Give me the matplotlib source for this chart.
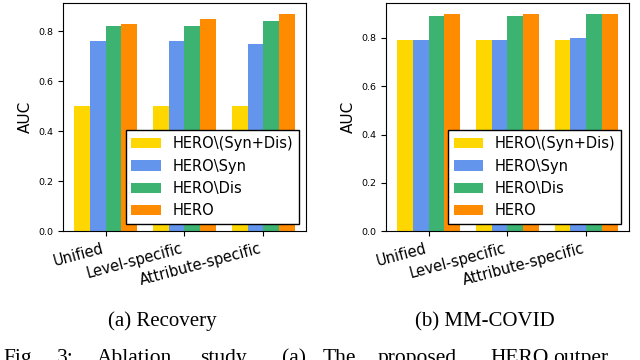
import numpy as np
import matplotlib
matplotlib.use('Agg')
import matplotlib.pyplot as plt

# ablation results
categories = ['Unified', 'Level-specific', 'Attribute-specific']
variants = ['HERO\\(Syn+Dis)', 'HERO\\Syn', 'HERO\\Dis', 'HERO']
colors = ['gold', 'cornflowerblue', 'mediumseagreen', 'darkorange']

recovery_no_syn_dis = [0.50, 0.50, 0.50]
recovery_no_syn = [0.76, 0.76, 0.75]
recovery_no_dis = [0.82, 0.82, 0.84]
recovery_hero = [0.83, 0.85, 0.87]

covid_no_syn_dis = [0.79, 0.79, 0.79]
covid_no_syn = [0.79, 0.79, 0.80]
covid_no_dis = [0.89, 0.89, 0.90]
covid_hero = [0.90, 0.90, 0.90]

subcaptions = ['(a) Recovery', '(b) MM-COVID']
caption_words = ['Fig.', '3:', 'Ablation', 'study.', '(a)', 'The', 'proposed', 'HERO', 'outper']
caption_x = [3, 57, 97, 200, 282, 323, 378, 490, 553]  # pixel positions of justified words


def draw_panel(ax, series):
    x = np.arange(len(categories))
    width = 0.2
    for i, (vals, name, c) in enumerate(zip(series, variants, colors)):
        ax.bar(x + (i - 1.5) * width, vals, width, color=c, label=name)
    ax.set_xticks(x)
    ax.set_xticklabels(categories, rotation=15, ha='right', fontsize=10.5)
    ax.tick_params(axis='y', labelsize=6.8)
    ax.set_yticks([0.0, 0.2, 0.4, 0.6, 0.8])
    ax.set_ylabel('AUC', fontsize=11)
    leg = ax.legend(loc='lower right', fontsize=10.5, fancybox=False, framealpha=1)
    leg.get_frame().set_edgecolor('black')


fig = plt.figure(figsize=(6.4, 3.6), dpi=100)
ax1 = fig.add_axes([0.0984, 0.3575, 0.3797, 0.635])
ax2 = fig.add_axes([0.6031, 0.3575, 0.3790, 0.635])

draw_panel(ax1, [recovery_no_syn_dis, recovery_no_syn, recovery_no_dis, recovery_hero])
draw_panel(ax2, [covid_no_syn_dis, covid_no_syn, covid_no_dis, covid_hero])

fig.text(162 / 640, 1 - 326 / 360, subcaptions[0], ha='center', va='baseline',
         fontsize=15, family='Liberation Serif')
fig.text(485 / 640, 1 - 326 / 360, subcaptions[1], ha='center', va='baseline',
         fontsize=15, family='Liberation Serif')

for word, px in zip(caption_words, caption_x):
    fig.text(px / 640, 1 - 349 / 360, word, ha='left', va='top',
             fontsize=15.5, family='Liberation Serif')

fig.savefig('out.png', dpi=100)
